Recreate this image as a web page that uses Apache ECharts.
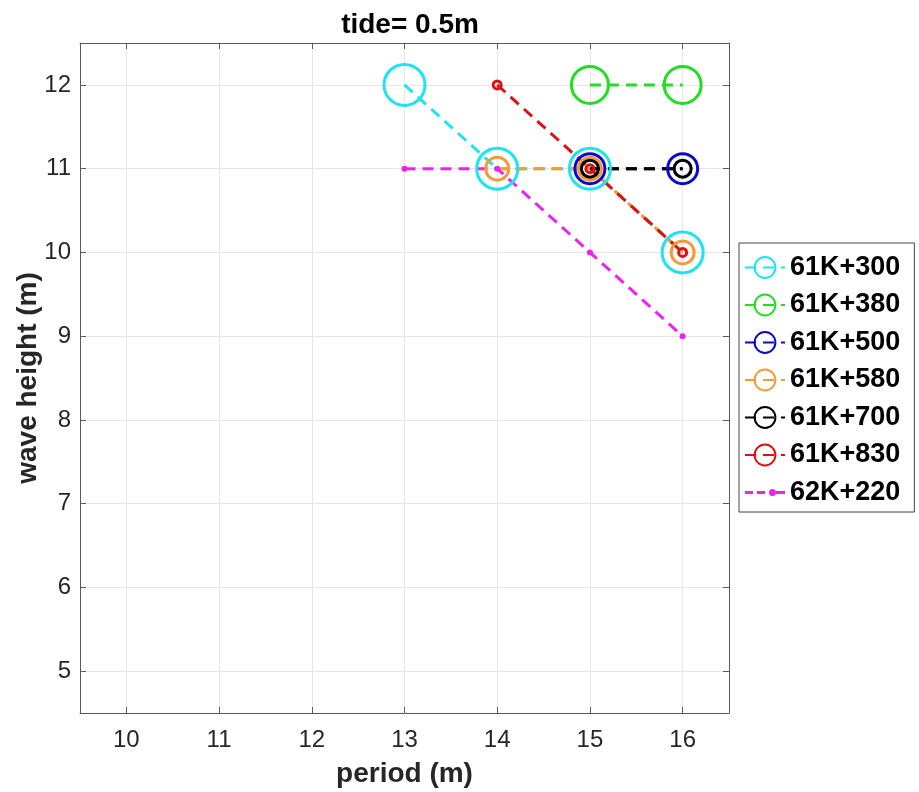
<!DOCTYPE html>
<html>
<head>
<meta charset="utf-8">
<script src="https://cdn.jsdelivr.net/npm/echarts@6/dist/echarts.min.js"></script>
<style>
  html, body { margin: 0; padding: 0; background: #fff; }
  #chart { width: 919px; height: 792px; }
</style>
</head>
<body>
<div id="chart"></div>
<script>
// station names (legend)
const stations = ['61K+300', '61K+380', '61K+500', '61K+580', '61K+700', '61K+830', '62K+220']

// [period, wave height] per station
const k61_300 = [[13, 12], [14, 11], [15, 11], [16, 10]]
const k61_380 = [[15, 12], [16, 12]]
const k61_500 = [[15, 11], [16, 11]]
const k61_580 = [[14, 11], [15, 11], [16, 10]]
const k61_700 = [[15, 11], [16, 11]]
const k61_830 = [[14, 12], [15, 11], [16, 10]]
const k62_220 = [[13, 11], [14, 11], [15, 10], [16, 9]]

const xTicks = [10, 11, 12, 13, 14, 15, 16]
const yTicks = [5, 6, 7, 8, 9, 10, 11, 12]

const FONT = '"Liberation Sans", Arial, Helvetica, sans-serif'
const chart = echarts.init(document.getElementById('chart'))

function ser(name, data, color, size, filled) {
  return {
    name,
    type: 'line',
    data,
    symbol: 'circle',
    symbolSize: size,
    showSymbol: true,
    lineStyle: { color, width: 3, type: [11, 7] },
    itemStyle: filled
      ? { color, borderColor: color, borderWidth: 0 }
      : { color: 'rgba(255,255,255,0)', borderColor: color, borderWidth: 3 },
    emphasis: { disabled: true },
    animation: false,
    z: 2
  }
}

const axisLineStyle = { color: '#5a5a5a', width: 1 }
const nameStyle = { fontFamily: FONT, fontSize: 28, fontWeight: 'bold', color: '#262626' }
const tickStyle = { fontFamily: FONT, fontSize: 24, color: '#262626' }

chart.setOption({
  animation: false,
  title: {
    text: 'tide= 0.5m',
    left: 405,
    textAlign: 'center',
    top: 6,
    textStyle: { fontFamily: FONT, fontSize: 28, fontWeight: 'bold', color: '#000' }
  },
  grid: { left: 80, right: 190, top: 43, bottom: 79, outerBoundsMode: 'none', containLabel: false },
  legend: {
    orient: 'vertical',
    left: 739,
    top: 243,
    padding: [11, 14, 6, 5],
    itemWidth: 40,
    itemHeight: 26,
    itemGap: 10.5,
    borderColor: '#444',
    borderWidth: 1,
    data: stations.slice(0, 6).map(n => ({ name: n })).concat([{
      name: stations[6],
      icon: 'path://M0,12h8v3h-8z M12,12h8v3h-8z M24,13.5a3.5,3.5 0 1,0 7,0a3.5,3.5 0 1,0 -7,0z M31,12h9v3h-9z'
    }]),
    textStyle: { fontFamily: FONT, fontSize: 27, fontWeight: 'bold', color: '#000', lineHeight: 26 }
  },
  xAxis: [
    {
      type: 'value', min: 9.5, max: 16.5, interval: 1,
      name: 'period (m)', nameLocation: 'middle', nameGap: 47, nameMoveOverlap: false,
      nameTextStyle: nameStyle,
      axisLine: { show: true, lineStyle: axisLineStyle },
      axisTick: { show: true, inside: true, length: 6, lineStyle: axisLineStyle, customValues: xTicks },
      axisLabel: Object.assign({ margin: 15, customValues: xTicks }, tickStyle),
      splitLine: { show: true, lineStyle: { color: '#e6e6e6', width: 1 } }
    },
    {
      type: 'value', position: 'top', min: 9.5, max: 16.5, interval: 1,
      axisLine: { show: true, lineStyle: axisLineStyle },
      axisTick: { show: true, inside: true, length: 6, lineStyle: axisLineStyle, customValues: xTicks },
      axisLabel: { show: false },
      splitLine: { show: false }
    }
  ],
  yAxis: [
    {
      type: 'value', min: 4.5, max: 12.5, interval: 1,
      name: 'wave height (m)', nameLocation: 'middle', nameGap: 38, nameRotate: 90, nameMoveOverlap: false,
      nameTextStyle: nameStyle,
      axisLine: { show: true, lineStyle: axisLineStyle },
      axisTick: { show: true, inside: true, length: 6, lineStyle: axisLineStyle, customValues: yTicks },
      axisLabel: Object.assign({ margin: 9, customValues: yTicks }, tickStyle),
      splitLine: { show: true, lineStyle: { color: '#e6e6e6', width: 1 } }
    },
    {
      type: 'value', position: 'right', min: 4.5, max: 12.5, interval: 1,
      axisLine: { show: true, lineStyle: axisLineStyle },
      axisTick: { show: true, inside: true, length: 6, lineStyle: axisLineStyle, customValues: yTicks },
      axisLabel: { show: false },
      splitLine: { show: false }
    }
  ],
  series: [
    ser(stations[0], k61_300, '#1fe3ee', 41, false),
    ser(stations[1], k61_380, '#22dd22', 37, false),
    ser(stations[2], k61_500, '#0a0acc', 30, false),
    ser(stations[3], k61_580, '#f29b38', 23, false),
    ser(stations[4], k61_700, '#000000', 17, false),
    ser(stations[5], k61_830, '#dd1111', 8, false),
    ser(stations[6], k62_220, '#ee22ee', 6, true)
  ]
})
</script>
</body>
</html>
